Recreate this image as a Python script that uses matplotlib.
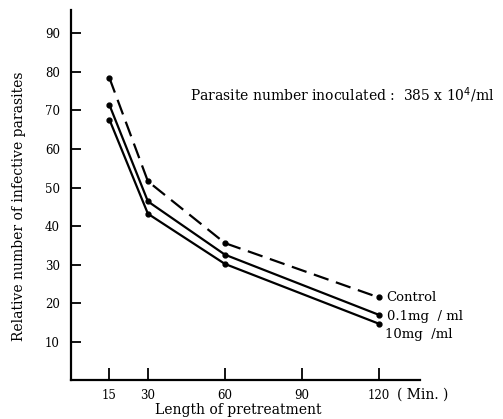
import matplotlib
matplotlib.use("Agg")
import matplotlib.pyplot as plt

plt.rcParams['font.family'] = ['DejaVu Serif']

minutes = [15, 30, 60, 120]
control = [78.4, 51.6, 35.6, 21.5]
dose_01 = [71.4, 46.4, 32.6, 17.0]
dose_10 = [67.6, 43.2, 30.2, 14.7]

fig = plt.figure(figsize=(5.03, 4.19), dpi=100)
ax = fig.add_axes([0.141, 0.092, 0.694, 0.884])

ax.plot(minutes, control, color='black', lw=1.6, dashes=(7, 3.5),
        marker='o', ms=3.5)
ax.plot(minutes, dose_01, color='black', lw=1.6, marker='o', ms=3.5)
ax.plot(minutes, dose_10, color='black', lw=1.6, marker='o', ms=3.5)

ax.set_xlim(0, 136)
ax.set_ylim(0, 96)
ax.set_xticks([15, 30, 60, 90, 120])
ax.set_yticks(range(10, 100, 10))
ax.tick_params(direction='in', length=7, width=1.3, labelsize=8.5)
ax.tick_params(axis='x', length=9)
ax.tick_params(axis='y', pad=8)
ax.tick_params(axis='x', pad=6)
for side in ('top', 'right'):
    ax.spines[side].set_visible(False)
for side in ('left', 'bottom'):
    ax.spines[side].set_linewidth(1.6)

ax.set_xlabel('Length of pretreatment', fontsize=10)
ax.xaxis.set_label_coords(0.478, -0.06)
ax.set_ylabel('Relative number of infective parasites', fontsize=10)
ax.yaxis.set_label_coords(-0.13, 0.47)

ax.text(127, -3.6, '( Min. )', fontsize=10, va='center', ha='left',
        clip_on=False)

ax.text(46.5, 74, r'Parasite number inoculated :  385 x 10$^4$/ml',
        fontsize=10, va='center', ha='left')

ax.text(123, 21.4, 'Control', fontsize=9.5, va='center', ha='left')
ax.text(123, 16.5, '0.1mg  / ml', fontsize=9.5, va='center', ha='left')
ax.text(122.5, 11.8, '10mg  /ml', fontsize=9.5, va='center', ha='left')

fig.savefig('out.png', dpi=100)
